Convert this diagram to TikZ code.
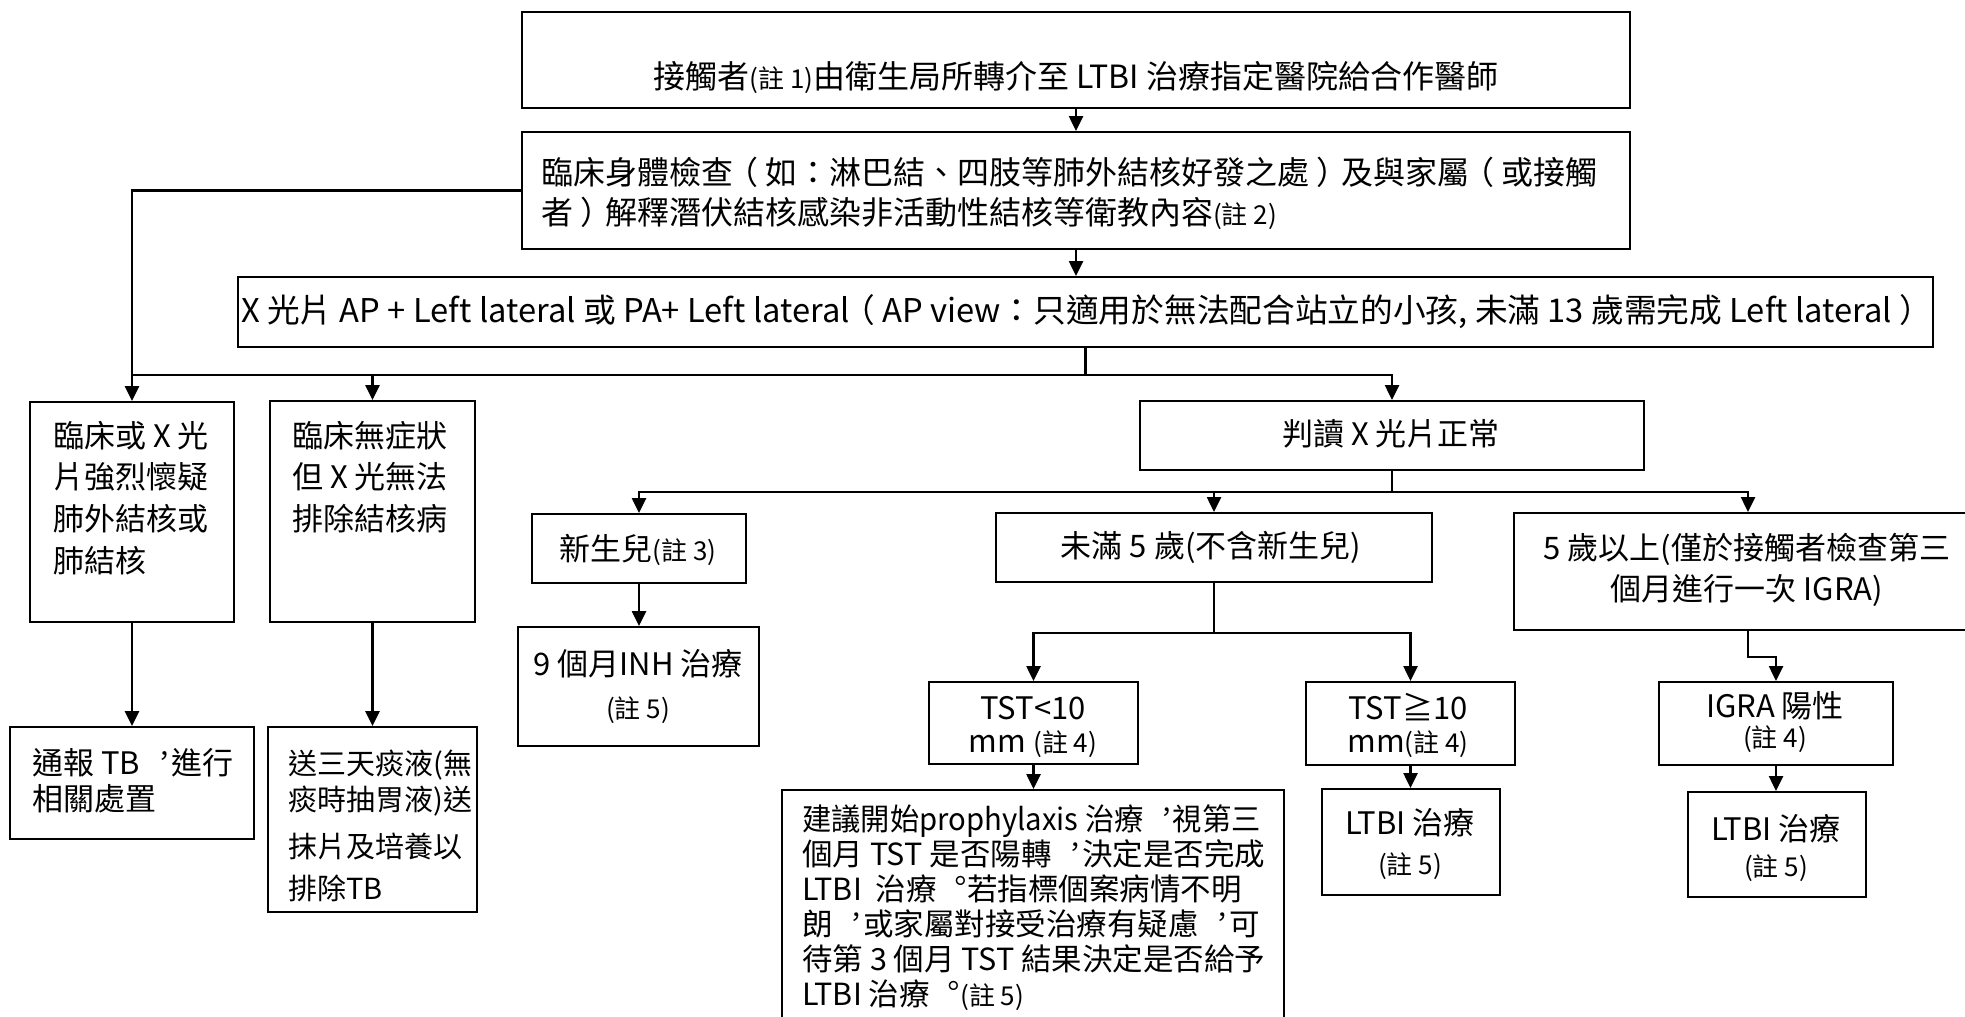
\documentclass[tikz,border=0pt]{standalone}
\usepackage{fontspec}
\usepackage{graphicx}
\setmainfont{Noto Sans CJK TC}
\usetikzlibrary{arrows.meta}
% smaller footnote references
\newcommand{\zhu}[1]{{\fontsize{26}{26}\selectfont(註 #1)}}
% full-width comma and full stop set in the middle of their square (Taiwan style)
\newcommand{\zcomma}{\makebox[1em][l]{\hspace{0.36em}\raisebox{0.27em}{\scalebox{0.85}{，}}}}
\newcommand{\zstop}{\makebox[1em][l]{\hspace{0.3em}\raisebox{0.25em}{。}}}
\newcommand{\lpar}{\makebox[1em][l]{\hspace{-0.22em}（}}
\newcommand{\rpar}{\makebox[1em][l]{\hspace{0.22em}）}}
% multi-line texts, first baseline at the node's base anchor
\newcommand{\lft}[2]{\parbox[t]{#1}{\raggedright #2}}
\newcommand{\ctr}[2]{\parbox[t]{#1}{\centering #2}}
\begin{document}
\begin{tikzpicture}[x=1pt,y=-1pt,
  box/.style={draw,line width=2pt,inner sep=0pt,anchor=north west},
  txt/.style={inner sep=0pt,font=\fontsize{31}{42}\selectfont},
  conn/.style={line width=2.6pt},
  arr/.style={conn,-{Triangle[length=15pt,width=14pt]}}]
\useasboundingbox (0,0) rectangle (1965,1017);
\fill[white] (0,0) rectangle (1965,1017);

% boxes: top-left corner, size
\node[box,minimum width=1108pt,minimum height=96pt]  (top)  at (521,11)  {};
\node[box,minimum width=1108pt,minimum height=117pt] (proc) at (521,131) {};
\node[box,minimum width=1695pt,minimum height=70pt]  (xray) at (237,276) {};
\node[box,minimum width=204pt,minimum height=220pt]  (A)    at (29,401)  {};
\node[box,minimum width=205pt,minimum height=221pt]  (B)    at (269,400) {};
\node[box,minimum width=244pt,minimum height=112pt]  (C)    at (9,726)   {};
\node[box,minimum width=209pt,minimum height=185pt]  (D)    at (267,726) {};
\node[box,minimum width=504pt,minimum height=69pt]   (R)    at (1139,400) {};
\node[box,minimum width=214pt,minimum height=69pt]   (N)    at (531,513) {};
\node[box,minimum width=436pt,minimum height=69pt]   (U)    at (995,512) {};
\node[box,minimum width=468pt,minimum height=117pt]  (F)    at (1513,512) {};
\node[box,minimum width=241pt,minimum height=119pt]  (I9)   at (517,626) {};
\node[box,minimum width=209pt,minimum height=82pt]   (T1)   at (928,681) {};
\node[box,minimum width=209pt,minimum height=83pt]   (T2)   at (1305,681) {};
\node[box,minimum width=234pt,minimum height=83pt]   (G)    at (1658,681) {};
\node[box,minimum width=502pt,minimum height=240pt]  (P)    at (781,789) {};
\node[box,minimum width=178pt,minimum height=106pt]  (L1)   at (1321,788) {};
\node[box,minimum width=178pt,minimum height=105pt]  (L2)   at (1687,791) {};

% texts
\node[txt,anchor=base,font=\fontsize{32}{42}\selectfont] (top-t) at (1076,88)
  {接觸者\zhu{1}由衛生局所轉介至 LTBI 治療指定醫院給合作醫師};
\node[txt,anchor=base west,font=\fontsize{32}{40}\selectfont] (proc-t) at (541,184)
  {\lft{1080pt}{\baselineskip=40pt 臨床身體檢查\lpar 如：淋巴結、四肢等肺外結核好發之處\rpar 及與家屬\lpar 或接觸\\者\rpar 解釋潛伏結核感染非活動性結核等衛教內容\zhu{2}}};
\node[txt,anchor=base west,font=\fontsize{32.7}{42}\selectfont] (xray-t) at (241,322)
  {X 光片 AP + Left lateral 或 PA+ Left lateral\lpar AP view：只適用於無法配合站立的小孩, 未滿 13 歲需完成 Left lateral\rpar};
\node[txt,anchor=base west] (A-t) at (53,447)
  {\lft{190pt}{\baselineskip=41.7pt 臨床或 X 光\\片強烈懷疑\\肺外結核或\\肺結核}};
\node[txt,anchor=base west] (B-t) at (292,447)
  {\lft{190pt}{\baselineskip=41.5pt 臨床無症狀\\但 X 光無法\\排除結核病}};
\node[txt,anchor=base west] (C-t) at (32,774)
  {\lft{230pt}{\baselineskip=36pt 通報 TB\zcomma 進行\\相關處置}};
\node[txt,anchor=base west,font=\fontsize{29}{42}\selectfont] (D-t) at (288,774)
  {\lft{200pt}{\baselineskip=42pt 送三天痰液(無\\[-6pt]痰時抽胃液)送\\[5pt]抹片及培養以\\排除TB}};
\node[txt,anchor=base] (R-t) at (1391,445) {判讀 X 光片正常};
\node[txt,anchor=base] (N-t) at (638,560) {新生兒\zhu{3}};
\node[txt,anchor=base] (U-t) at (1211,557) {未滿 5 歲(不含新生兒)};
\node[txt,anchor=base] (F-t) at (1747,559)
  {\ctr{460pt}{\baselineskip=41pt 5 歲以上(僅於接觸者檢查第三\\個月進行一次 IGRA)}};
\node[txt,anchor=base] (I9-t) at (638,675)
  {\ctr{240pt}{\baselineskip=43pt 9 個月INH 治療\\\zhu{5}}};
\node[txt,anchor=base] (T1-t) at (1033,719)
  {\ctr{205pt}{\baselineskip=33pt TST<10\\mm \zhu{4}}};
\node[txt,anchor=base] (T2-t) at (1408,719)
  {\ctr{205pt}{\baselineskip=33pt TST≧10\\mm\zhu{4}}};
\node[txt,anchor=base] (G-t) at (1775,717)
  {\ctr{230pt}{\baselineskip=30pt IGRA 陽性\\\zhu{4}}};
\node[txt,anchor=base] (L1-t) at (1410,834)
  {\ctr{175pt}{\baselineskip=40pt LTBI 治療\\\zhu{5}}};
\node[txt,anchor=base] (L2-t) at (1776,840)
  {\ctr{175pt}{\baselineskip=36pt LTBI 治療\\\zhu{5}}};
\node[txt,anchor=base west,font=\fontsize{30.5}{35}\selectfont] (P-t) at (802,830)
  {\lft{490pt}{\baselineskip=35pt \scalebox{0.96}[1]{建議開始prophylaxis 治療\zcomma 視第三}\\個月 TST 是否陽轉\zcomma 決定是否完成\\LTBI\ \ 治療\zstop 若指標個案病情不明\\朗\zcomma 或家屬對接受治療有疑慮\zcomma 可\\待第 3 個月 TST 結果決定是否給予\\LTBI 治療\zstop\zhu{5}}};

% connectors
\draw[arr] (top.south) -- (top.south |- proc.north);
\draw[arr] (proc.south) -- (proc.south |- xray.north);
\draw[arr] (proc.west) -| (A.north);
\draw[conn] (xray.south) -- ++(0,27) coordinate (hub);
\draw[conn] (hub) -- (hub -| A.north);
\draw[arr] (hub) -| (B.north);
\draw[arr] (hub) -| (R.north);
\draw[arr] (A.south) -- (C.north);
\draw[arr] (B.south) -- (D.north);
\draw[conn] (R.south) -- ++(0,21) coordinate (hub2);
\draw[arr] (hub2) -| (N.north);
\draw[arr] (hub2) -| (U.north);
\draw[arr] (hub2) -| (F.north);
\draw[arr] (N.south) -- (N.south |- I9.north);
\draw[conn] (U.south) -- ++(0,50) coordinate (hub3);
\draw[arr] (hub3) -| (T1.north);
\draw[arr] (hub3) -| (T2.north);
\draw[arr] (T1.south) -- (T1.south |- P.north);
\draw[arr] (T2.south) -- (T2.south |- L1.north);
\draw[arr] (F.south) -- ++(0,26) -| (G.north);
\draw[arr] (G.south) -- (G.south |- L2.north);
\end{tikzpicture}
\end{document}
